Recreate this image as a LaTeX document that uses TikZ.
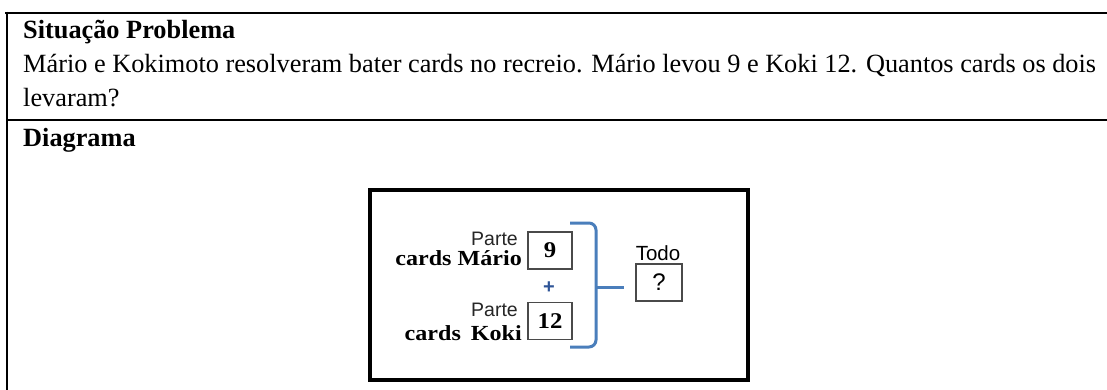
\documentclass[tikz,border=0pt]{standalone}
\usepackage{fontspec}
\setmainfont{Liberation Serif}
\newfontfamily\arialf{Liberation Sans}
\definecolor{bracketblue}{HTML}{4A7EBB}
\definecolor{plusblue}{HTML}{2F5597}
\definecolor{boxgray}{HTML}{4A4A4A}
\begin{document}
\begin{tikzpicture}[x=1pt,y=-1pt,
  tableline/.style={line width=2.6pt,black},
  bodytext/.style={anchor=base west,inner sep=0pt,font=\fontsize{26.3}{30}\selectfont},
  headtext/.style={bodytext,font=\fontsize{26.3}{30}\selectfont\bfseries},
  numbox/.style={draw=boxgray,line width=1.5pt,minimum width=44pt,minimum height=37pt,inner sep=0pt},
  partelabel/.style={anchor=base east,inner sep=0pt,font=\arialf\fontsize{19.5}{22}\selectfont,text=black!85},
  cardslabel/.style={anchor=base east,inner sep=0pt,font=\fontsize{21.5}{24}\selectfont\bfseries},
  bracket/.style={draw=bracketblue,line width=3pt,rounded corners=7pt}
]
\useasboundingbox (0,0) rectangle (1107,390);
% table lines
\coordinate (tl) at (5,13);
\coordinate (tr) at (1107,13);
\coordinate (ml) at (7,120);
\coordinate (mr) at (1107,120);
\coordinate (bl) at (7,390);
\coordinate (lt) at (7,11.7);
\draw[tableline] (tl) -- (tr);
\draw[tableline] (ml) -- (mr);
\draw[tableline] (lt) -- (bl);
% texts
\node[headtext] (h1) at (23,39) {Situação Problema};
\node[bodytext] (l2) at (23,73) {Mário e Kokimoto resolveram bater cards no recreio. Mário levou 9 e Koki 12. Quantos cards os dois};
\node[bodytext] (l3) at (23,107) {levaram?};
\node[headtext] (h2) at (23,147) {Diagrama};
% inner diagram frame
\node[draw,line width=3.5pt,minimum width=378pt,minimum height=190pt,inner sep=0pt] (frame) at (559,285) {};
% boxes
\node[numbox] (b9) at (550,250.5) {\scalebox{1.1}[1]{\fontsize{22.5}{24}\selectfont\bfseries 9}};
\node[numbox] (b12) at (550,321) {\scalebox{1.1}[1]{\fontsize{22.5}{24}\selectfont\bfseries 12}};
\node[numbox,minimum width=46pt] (bq) at (659,282.5) {\arialf\fontsize{24}{26}\selectfont ?};
% labels
\node[partelabel] (p1) at (518,245) {Parte};
\node[cardslabel] (c1) at (522,265) {\scalebox{1.12}[1]{cards Mário}};
\node[partelabel] (p2) at (518,316) {Parte};
\node[cardslabel] (c2) at (522,340) {\scalebox{1.12}[1]{cards\, Koki}};
\node[inner sep=0pt,anchor=base,font=\arialf\fontsize{20.5}{22}\selectfont] (todo) at (658,260) {Todo};
\node[inner sep=0pt,font=\arialf\bfseries\fontsize{20}{22}\selectfont,text=plusblue] (plus) at (549,288) {+};
% bracket
\coordinate (bt) at (570,223);
\coordinate (bb) at (570,347);
\coordinate (bm) at (596,287);
\coordinate (be) at (624,287);
\draw[bracket] (bt) -- (596,223) -- (596,347) -- (bb);
\draw[bracketblue,line width=3pt] (bm) -- (be);
\end{tikzpicture}
\end{document}
